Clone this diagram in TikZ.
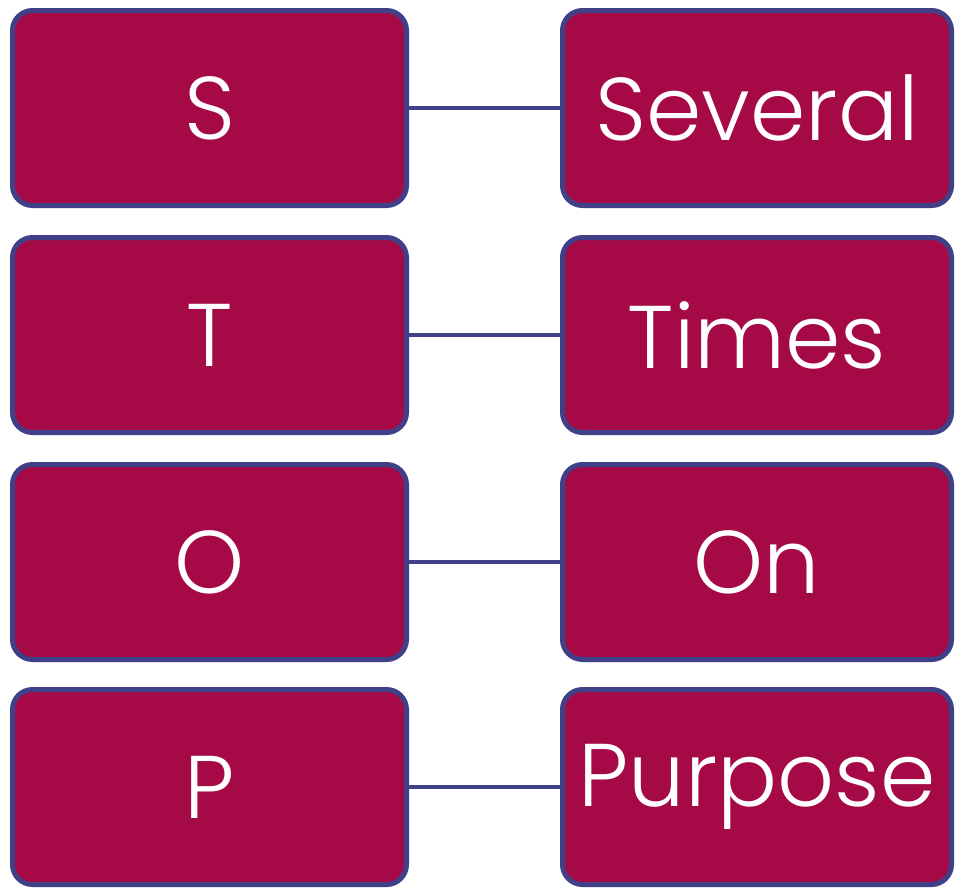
\documentclass[tikz,border=0pt]{standalone}
\usepackage{fontspec}
\setmainfont{Poppins}[UprightFont=* Light]
\definecolor{boxfill}{RGB}{166,10,70}
\definecolor{boxline}{RGB}{64,64,136}
\tikzset{
  letterbox/.style={draw=boxline, fill=boxfill, line width=5pt, rounded corners=20pt,
    minimum width=394pt, minimum height=195pt, inner sep=0pt, text=white,
    font=\fontsize{89}{100}\selectfont},
  wordbox/.style={letterbox, minimum width=389pt},
  link/.style={draw=boxline, line width=3.5pt}
}
\begin{document}
\begin{tikzpicture}[x=1pt,y=-1pt]
\useasboundingbox (0,0) rectangle (955,889);
\foreach \i/\L/\W/\y in {1/S/Several/108, 2/T/Times/335, 3/O/On/562, 4/P/Purpose/787}{
  \node[letterbox] (l\i) at (209.5,\y) {\L};
  \node[wordbox] (w\i) at (757,\y) {\W};
  \draw[link] (l\i.east) -- (w\i.west);
}
\end{tikzpicture}
\end{document}
